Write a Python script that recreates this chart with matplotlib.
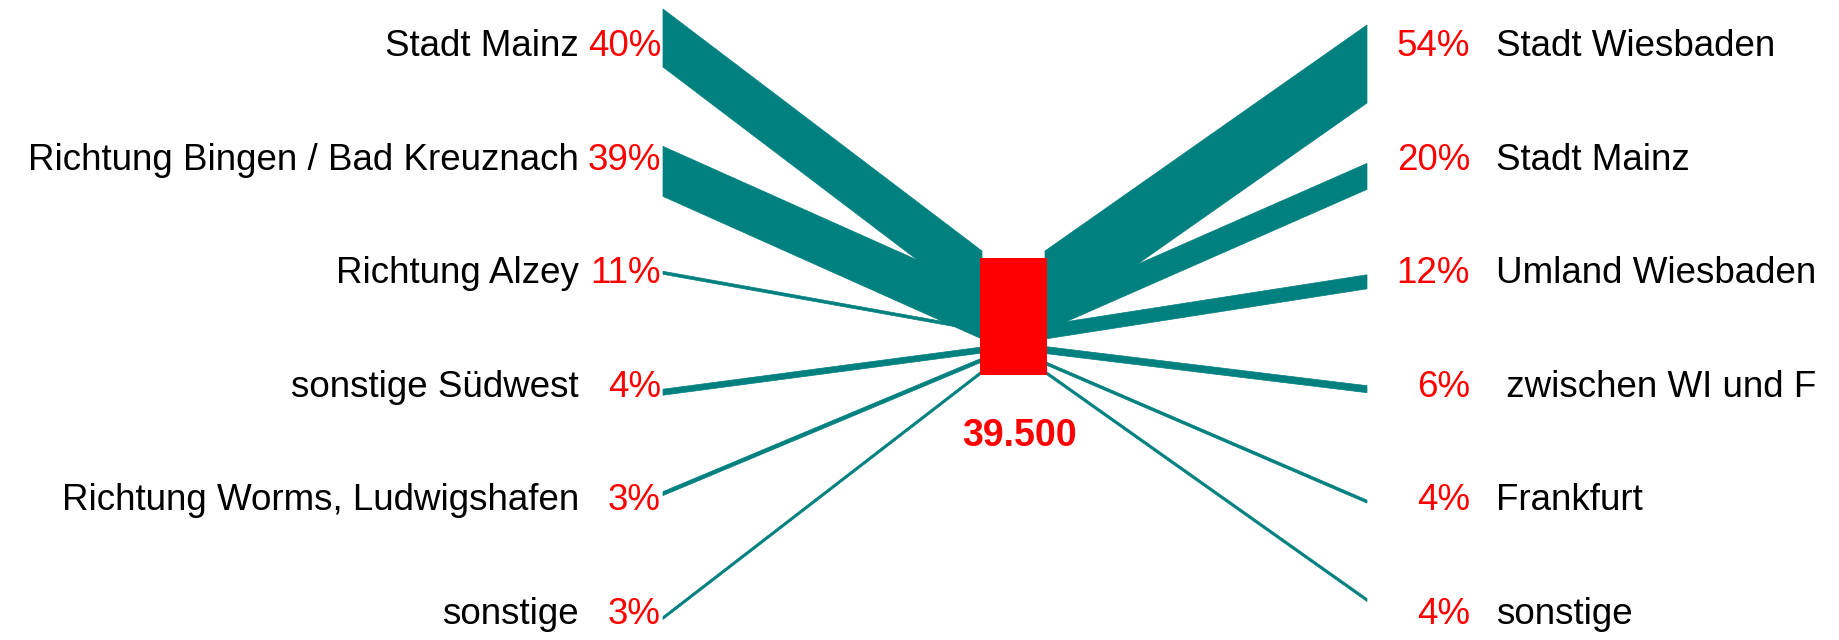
import matplotlib
matplotlib.use("Agg")
import matplotlib.pyplot as plt
from matplotlib.patches import Polygon, Rectangle

# data
left_names = ["Stadt Mainz", "Richtung Bingen / Bad Kreuznach", "Richtung Alzey",
              "sonstige Südwest", "Richtung Worms, Ludwigshafen", "sonstige"]
left_pct = [40, 39, 11, 4, 3, 3]
left_flow = [58, 50, 3, 6, 4, 3]      # band thickness as drawn in the original

right_names = ["Stadt Wiesbaden", "Stadt Mainz", "Umland Wiesbaden",
               " zwischen WI und F", "Frankfurt", "sonstige"]
right_pct = [54, 20, 12, 6, 4, 4]
right_flow = [78, 26, 14, 7, 3, 3]

total = "39.500"

TEAL = "#00807f"
RED = "#ff0000"
FONT = ["Liberation Sans Narrow", "Liberation Sans", "DejaVu Sans"]

fig = plt.figure(figsize=(18.4, 6.4), dpi=100)
ax = fig.add_axes([0, 0, 1, 1])
ax.set_xlim(0, 1840)
ax.set_ylim(640, 0)
ax.axis("off")

# layout (pixels)
row_y = [47 + i * 113.4 for i in range(6)]
x_left, x_right = 663, 1367
box_x0, box_x1, box_y0, box_y1 = 980, 1047, 258, 375
left_shift = [-9, 11, -1, 5, -7, 4]      # band start vs. label row
right_shift = [17, 16, 8, 2, 1, -14]
left_end = [280, 314, 330, 350, 360, 372]   # where bands meet the box
right_end = [290, 318, 332, 350, 363, 372]


def band(x0, y0, x1, y1, h):
    pts = [(x0, y0 - h / 2), (x1, y1 - h / 2), (x1, y1 + h / 2), (x0, y0 + h / 2)]
    ax.add_patch(Polygon(pts, closed=True, fc=TEAL, ec=TEAL, lw=0.5))


for i in range(6):
    band(x_left, row_y[i] + left_shift[i], box_x0 + 2, left_end[i], left_flow[i])
    band(box_x1 - 2, right_end[i], x_right, row_y[i] + right_shift[i], right_flow[i])

ax.add_patch(Rectangle((box_x0, box_y0), box_x1 - box_x0, box_y1 - box_y0, fc=RED, ec="none", zorder=5))
ax.text((box_x0 + box_x1) / 2 + 6, 436, total, color=RED, fontsize=27, fontweight="bold",
        ha="center", va="center", family=FONT)

fs = 26.5
for i in range(6):
    ax.text(579, row_y[i], left_names[i], ha="right", va="center", fontsize=fs, family=FONT, color="black")
    ax.text(661, row_y[i], f"{left_pct[i]}%", ha="right", va="center", fontsize=fs, family=FONT, color=RED)
    ax.text(1470, row_y[i], f"{right_pct[i]}%", ha="right", va="center", fontsize=fs, family=FONT, color=RED)
    ax.text(1496, row_y[i], right_names[i], ha="left", va="center", fontsize=fs, family=FONT, color="black")

fig.savefig("out.png", dpi=100, facecolor="white")
